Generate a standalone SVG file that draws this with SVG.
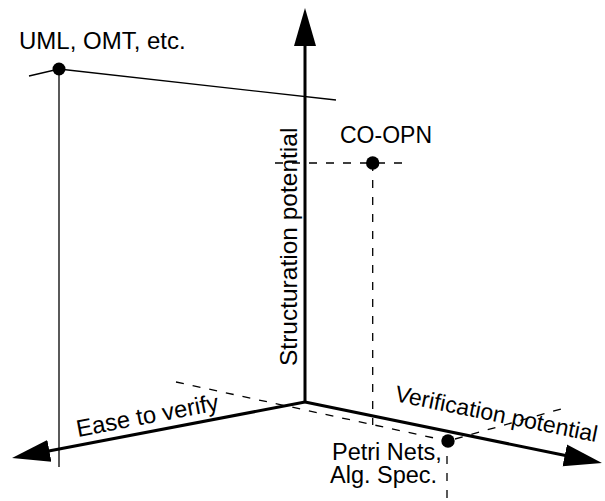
<svg xmlns="http://www.w3.org/2000/svg" width="605" height="501" viewBox="0 0 605 501">
  <style>
    text { font-family: "Liberation Sans", Arial, Helvetica, sans-serif; font-size: 23px; fill: #000; }
    .axis { stroke: #000; stroke-width: 3; fill: none; marker-end: url(#head); }
    .thin { stroke: #000; stroke-width: 1.3; fill: none; }
    .dash { stroke: #000; stroke-width: 1.3; fill: none; stroke-dasharray: 8 9; }
    .dot { fill: #000; }
  </style>
  <defs>
    <marker id="head" markerUnits="userSpaceOnUse" markerWidth="40" markerHeight="24" refX="2" refY="12" orient="auto">
      <path d="M0,1 L38,12 L0,23 z" fill="#000"/>
    </marker>
  </defs>

  <!-- axes -->
  <g id="axes">
    <line class="axis" x1="305" y1="402" x2="305" y2="44"/>
    <line class="axis" x1="305" y1="402" x2="47.4" y2="451.2"/>
    <line class="axis" x1="305" y1="402" x2="566.7" y2="455.8"/>
    <text transform="translate(297,366) rotate(-90)" style="font-size:24.5px">Structuration potential</text>
    <text transform="translate(78,437) rotate(-10.8)" style="font-size:23.8px">Ease to verify</text>
    <text transform="translate(394,401) rotate(11.5)">Verification potential</text>
  </g>

  <!-- projection lines -->
  <g id="connectors">
    <polyline class="thin" points="29,76 59,69 336,100"/>
    <line class="thin" x1="59" y1="69" x2="59" y2="467"/>
    <line class="dash" x1="275" y1="163" x2="403" y2="163"/>
    <line class="dash" x1="372.7" y1="163" x2="372.7" y2="425"/>
    <line class="dash" x1="176" y1="382" x2="448" y2="441"/>
    <line class="dash" x1="455" y1="439" x2="568" y2="407"/>
    <line class="dash" x1="447" y1="456" x2="447" y2="501"/>
  </g>

  <g id="uml">
    <circle class="dot" cx="59" cy="69" r="6.5"/>
    <text x="19" y="49" style="font-size:24px">UML, OMT, etc.</text>
  </g>

  <g id="coopn">
    <circle class="dot" cx="372.7" cy="163" r="6.7"/>
    <text x="340" y="143">CO-OPN</text>
  </g>

  <g id="petri" style="font-size:23.5px">
    <circle class="dot" cx="448" cy="441" r="6.7"/>
    <text x="332" y="460" style="font-size:23.5px">Petri Nets,</text>
    <text x="330" y="483" style="font-size:23.5px">Alg. Spec.</text>
  </g>
</svg>
